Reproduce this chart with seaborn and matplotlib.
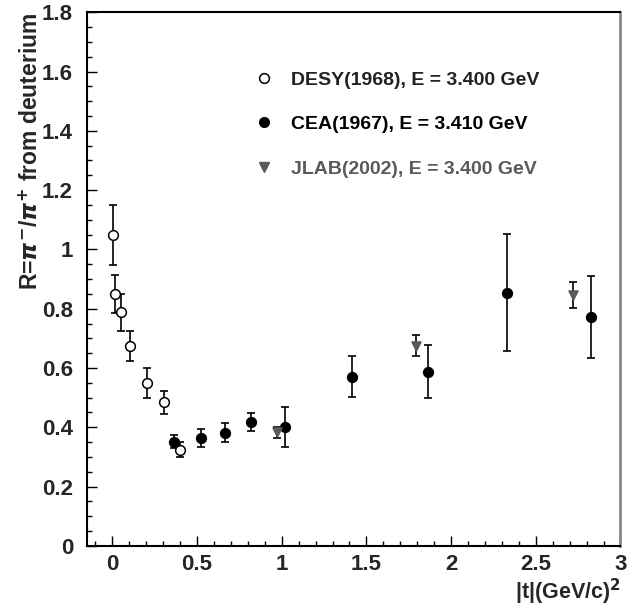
import matplotlib
matplotlib.use("Agg")
import matplotlib.pyplot as plt
from matplotlib.ticker import MultipleLocator
from matplotlib.lines import Line2D
import seaborn as sns
import pandas as pd

# DESY (1968), E = 3.400 GeV
desy_t = [0.002, 0.014, 0.053, 0.102, 0.205, 0.303, 0.402]
desy_r = [1.049, 0.850, 0.788, 0.675, 0.549, 0.484, 0.325]
desy_err = [0.100, 0.064, 0.062, 0.050, 0.050, 0.040, 0.026]

# CEA (1967), E = 3.410 GeV
cea_t = [0.366, 0.524, 0.667, 0.821, 1.022, 1.417, 1.865, 2.333, 2.828]
cea_r = [0.352, 0.363, 0.382, 0.417, 0.402, 0.571, 0.588, 0.854, 0.772]
cea_err = [0.023, 0.031, 0.032, 0.031, 0.068, 0.070, 0.088, 0.197, 0.137]

# JLAB (2002), E = 3.400 GeV
jlab_t = [0.973, 1.794, 2.721]
jlab_r = [0.383, 0.675, 0.846]
jlab_err = [0.018, 0.035, 0.044]

labels = ["DESY(1968), E = 3.400 GeV",
          "CEA(1967), E = 3.410 GeV",
          "JLAB(2002), E = 3.400 GeV"]

sns.set_style("ticks")
plt.rcParams["font.family"] = ["Liberation Sans", "DejaVu Sans"]
plt.rcParams["font.weight"] = "bold"
plt.rcParams["mathtext.fontset"] = "dejavusans"

fig = plt.figure(figsize=(6.39, 6.12), dpi=100)
ax = fig.add_axes([0.136, 0.108, 0.835, 0.872])

gray = "#5a5a5a"
sets = [
    (desy_t, desy_r, desy_err, "o", "white", "black", 7.0),
    (cea_t, cea_r, cea_err, "o", "black", "black", 7.0),
    (jlab_t, jlab_r, jlab_err, "v", gray, gray, 6.5),
]
for (t, r, e, m, fc, ec, ms) in sets:
    ax.errorbar(t, r, yerr=e, fmt="none", ecolor="black", elinewidth=1.2,
                capsize=3.0, capthick=1.2, zorder=2)
for (t, r, e, m, fc, ec, ms), lab in zip(sets, labels):
    df = pd.DataFrame({"t": t, "r": r})
    sns.scatterplot(data=df, x="t", y="r", marker=m, s=ms ** 2, color=fc,
                    edgecolor=ec, linewidth=1.1, ax=ax, zorder=3, legend=False)

ax.set_xlim(-0.15, 3.0)
ax.set_ylim(0, 1.8)
ax.xaxis.set_major_locator(MultipleLocator(0.5))
ax.xaxis.set_minor_locator(MultipleLocator(0.1))
ax.yaxis.set_major_locator(MultipleLocator(0.2))
ax.yaxis.set_minor_locator(MultipleLocator(0.05))
ax.xaxis.set_major_formatter(plt.FuncFormatter(lambda v, p: f"{v:g}"))
ax.yaxis.set_major_formatter(plt.FuncFormatter(lambda v, p: f"{v:g}"))
ax.tick_params(which="both", direction="in", top=False, right=False,
               width=1.0, color="black")
ax.tick_params(which="major", length=7, labelsize=16)
ax.tick_params(which="minor", length=3.5)
ax.tick_params(axis="x", which="major", pad=6)
ax.tick_params(axis="y", which="major", pad=10)
for lab in ax.get_xticklabels() + ax.get_yticklabels():
    lab.set_fontweight("bold")

for side in ["left", "bottom", "top"]:
    ax.spines[side].set_color("black")
    ax.spines[side].set_linewidth(1.5)
ax.spines["right"].set_color("#888888")
ax.spines["right"].set_linewidth(2.0)

ax.set_xlabel("|t|(GeV/c)$^{\\mathbf{2}}$", loc="right", fontsize=15.5,
              fontweight="bold", labelpad=1)
ax.set_ylabel("R=$\\pi^{\\mathbf{-}}$/$\\pi^{\\mathbf{+}}$ from deuterium",
              loc="top", fontsize=16.5, fontweight="bold", labelpad=-1)

handles = [
    Line2D([], [], ls="none", marker="o", ms=7.0, mfc="white", mec="black", mew=1.1),
    Line2D([], [], ls="none", marker="o", ms=7.0, mfc="black", mec="black"),
    Line2D([], [], ls="none", marker="v", ms=6.5, mfc=gray, mec=gray),
]
leg = ax.legend(handles, labels, loc="upper left", frameon=False,
                bbox_to_anchor=(254 / 639, 1 - 71 / 612),
                bbox_transform=fig.transFigure, borderpad=0, borderaxespad=0,
                handlelength=1.0, handletextpad=0.9, labelspacing=1.38,
                prop={"size": 14, "weight": "bold"})
for txt, c in zip(leg.get_texts(), ["#222222", "black", gray]):
    txt.set_color(c)

fig.savefig("out.png", dpi=100)
